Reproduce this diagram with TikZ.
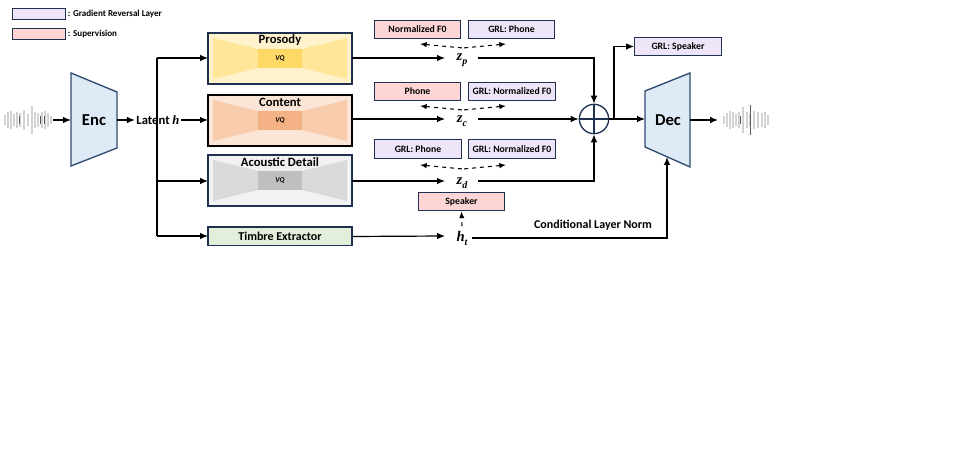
\documentclass[tikz,border=0pt]{standalone}
\usepackage{fontspec}
\setmainfont{Carlito}
\newfontfamily\mathserif{Liberation Serif}
\usetikzlibrary{arrows.meta}
\definecolor{navy}{HTML}{1F3050}
\definecolor{grlc}{HTML}{EEE6F8}
\definecolor{supc}{HTML}{FDD5D5}
\definecolor{encc}{HTML}{DEEBF7}
\definecolor{encb}{HTML}{2F4A6E}
\definecolor{pr1}{HTML}{FFF2CC}\definecolor{pr2}{HTML}{FFE699}\definecolor{pr3}{HTML}{FFD966}
\definecolor{co1}{HTML}{FBE5D6}\definecolor{co2}{HTML}{F8CBAD}\definecolor{co3}{HTML}{F4B183}
\definecolor{ac1}{HTML}{F2F2F2}\definecolor{ac2}{HTML}{D9D9D9}\definecolor{ac3}{HTML}{BFBFBF}
\definecolor{tim1}{HTML}{E2EFDA}
\begin{document}
\begin{tikzpicture}[x=0.75pt,y=-0.75pt,
  every node/.style={font=\bfseries},
  lbl/.style={draw=navy,line width=0.9pt,font=\bfseries\fontsize{7.3}{8}\selectfont,inner sep=0pt},
  grl/.style={lbl,fill=grlc,minimum width=65pt,minimum height=14pt},
  sup/.style={lbl,fill=supc,minimum width=65pt,minimum height=14pt},
  arr/.style={-{Latex[length=6pt,width=5pt]},line width=0.9pt},
  dsh/.style={{Latex[length=5pt,width=4pt]}-,line width=0.8pt,dashed},
  wav/.style={gray!35,line width=2.2pt}]
\useasboundingbox (0,0) rectangle (975,473);
% legend
\node[grl,minimum width=40pt,minimum height=8pt] (lg1) at (39,14) {};
\node[anchor=west,font=\bfseries\fontsize{6.8}{7}\selectfont,inner sep=1pt] (lt1) at (lg1.east) {: Gradient Reversal Layer};
\node[sup,minimum width=40pt,minimum height=8pt] (lg2) at (39,34) {};
\node[anchor=west,font=\bfseries\fontsize{6.8}{7}\selectfont,inner sep=1pt] (lt2) at (lg2.east) {: Supervision};
% input waveform
\foreach \x/\h in {5/5,8/8,11/9,14/6,17/8,20/7,24/9,28/6,32/12,35/8,38/7,42/8,45/9,48/7,51/4}
  \draw[wav] (\x,120-\h) -- (\x,120+\h);
\draw[gray!35,line width=1pt] (32,106)--(32,134) (24,110)--(24,130);
\draw[gray!70!black,line width=0.6pt] (19,116)--(19,124) (40,116)--(40,124) (44,116)--(44,124);
\coordinate (win) at (53,120);
% Enc
\draw[encb,fill=encc,line width=1pt] (71,73) -- (117,92) -- (117,148) -- (71,166) -- cycle;
\node[font=\bfseries\fontsize{12.5}{13}\selectfont] (enc) at (94,120) {Enc};
\draw[arr] (win) -- (71,120);
\node[font=\bfseries\fontsize{9.5}{10}\selectfont,inner sep=1pt] (lat) at (158,120) {Latent {\mathserif\bfseries\itshape h}};
\draw[arr] (117,120) -- (lat.west);
% branches
\draw[line width=0.9pt] (157,58) -- (157,236);
\draw[arr] (157,58) -- (208,58);
\draw[arr] (lat.east) -- (208,120);
\draw[arr] (157,181) -- (208,181);
\draw[arr] (157,236) -- (208,236);
% modules
\newcommand{\modbox}[7]{%
  \draw[draw=#5,line width=1pt,fill=#2] (208,#1) rectangle (352,#1+51);
  \fill[#3] (213,#1+5) -- (258,#1+16) -- (302,#1+16) -- (347,#1+5) -- (347,#1+46) -- (302,#1+35) -- (258,#1+35) -- (213,#1+46) -- cycle;
  \fill[#4] (258,#1+16) rectangle (302,#1+35);
  \node[font=\itshape\bfseries\fontsize{5.5}{6}\selectfont] (#7vq) at (280,#1+25.5) {VQ};
  \node[font=\bfseries\fontsize{9.5}{10}\selectfont,inner sep=0pt] (#7t) at (280,#1+7) {#6};}
\modbox{33}{pr1}{pr2}{pr3}{navy}{Prosody}{pr}
\modbox{95}{co1}{co2}{co3}{black}{Content}{co}
\modbox{155}{ac1}{ac2}{ac3}{navy}{Acoustic Detail}{ac}
\node[draw=navy,line width=1pt,fill=tim1,minimum width=108pt,minimum height=14pt,font=\bfseries\fontsize{9}{10}\selectfont,inner sep=0pt] (tim) at (280,236.5) {Timbre Extractor};
% latents
\newcommand{\zl}[2]{{\mathserif\bfseries\itshape\fontsize{11}{12}\selectfont #1\raisebox{-3pt}{\fontsize{7.5}{8}\selectfont #2}}}
\node (zp) at (462,60) {\zl{z}{p}};
\node (zc) at (462,121) {\zl{z}{c}};
\node (zd) at (462,183) {\zl{z}{d}};
\node (ht) at (462,238) {\zl{h}{t}};
\draw[arr] (352,58) -- (445,58);
\draw[arr] (352,119) -- (445,119);
\draw[arr] (352,181) -- (445,181);
\draw[arr] (tim.east) -- (445,236);
% sum
\node[draw=navy,circle,line width=1pt,minimum size=22pt,inner sep=0pt] (sum) at (594,119) {};
\draw[navy,line width=1pt] (sum.north)--(sum.south) (sum.west)--(sum.east);
\draw[arr] (478,58) -| (sum.north);
\draw[arr] (478,119) -- (sum.west);
\draw[arr] (478,181) -| (sum.south);
% label boxes
\node[sup] (nf) at (417.5,29.5) {Normalized F0};
\node[grl] (gp1) at (511.5,29.5) {GRL: Phone};
\node[sup] (ph) at (417.5,91.5) {Phone};
\node[grl] (gn1) at (512,91.5) {GRL: Normalized F0};
\node[grl] (gp2) at (418,149) {GRL: Phone};
\node[grl] (gn2) at (512,149) {GRL: Normalized F0};
\node[sup] (spk) at (461.5,201.5) {Speaker};
\foreach \y in {44,106,165}{
  \draw[dsh] (420,\y) -- (463,\y+4);
  \draw[dsh] (506,\y) -- (463,\y+4);}
\draw[-{Latex[length=5pt,width=4pt]},line width=0.8pt,dashed] (ht.north) -- (spk.south);
% decoder
\draw[encb,fill=encc,line width=1pt] (645,91) -- (690,73) -- (690,167) -- (645,147) -- cycle;
\node[font=\bfseries\fontsize{12.5}{13}\selectfont] (dec) at (668,120) {Dec};
\draw[arr] (sum.east) -- (645,119);
\node[grl] (gs) at (678,46.5) {GRL: Speaker};
\draw[arr] (614,119) |- (gs.west);
\draw[arr] (ht.east) -| (667,157);
\node[font=\bfseries\fontsize{9}{10}\selectfont] (cln) at (593,225) {Conditional Layer Norm};
% output waveform
\draw[arr] (690,120) -- (718,120);
\foreach \x/\h in {724/4,727/7,730/9,733/8,736/6,739/8,743/10,747/8,750/6,754/9,758/8,762/7,765/8,768/5}
  \draw[wav] (\x,120-\h) -- (\x,120+\h);
\draw[gray!35,line width=1pt] (743,107)--(743,133);
\draw[gray!70!black,line width=0.6pt] (740,116)--(740,124) (750,105)--(750,135);
\end{tikzpicture}
\end{document}
